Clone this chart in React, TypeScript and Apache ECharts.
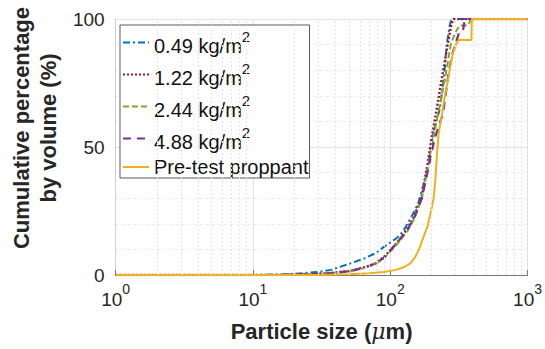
import React, { useEffect, useRef } from "react";
import * as echarts from "echarts";

// Particle size (um) vs cumulative volume percentage (%)
const seriesNames = ["0.49 kg/m2", "1.22 kg/m2", "2.44 kg/m2", "4.88 kg/m2", "Pre-test proppant"];

const blue049: [number, number][] = [
  [1, 0], [10, 0], [15, 0.2], [20, 0.4], [30, 1.2], [37, 2], [51, 4.5], [65, 6.5], [78, 8.5],
  [90, 11], [112, 14.5], [124, 17], [147, 24], [160, 28], [185, 40], [205, 55], [230, 65],
  [246, 77], [258, 90], [270, 97], [279, 100], [1000, 100],
];
const red122: [number, number][] = [
  [1, 0], [15, 0], [26, 0.3], [37, 0.8], [51, 1.6], [65, 3], [78, 4.5], [90, 7], [112, 12.5],
  [133, 18], [150, 23], [170, 31], [188, 44], [201, 54], [220, 66], [238, 77], [263, 90.5],
  [279, 98], [290, 100], [1000, 100],
];
const green244: [number, number][] = [
  [1, 0], [16, 0], [28, 0.3], [37, 0.7], [51, 1.4], [65, 2.8], [78, 4.3], [90, 6.5], [112, 12],
  [133, 17], [150, 22], [170, 30], [188, 42], [205, 53], [225, 64], [251, 77], [277, 90.5],
  [300, 95], [320, 97.5], [370, 97.5], [385, 100], [1000, 100],
];
const purple488: [number, number][] = [
  [1, 0], [16, 0], [28, 0.3], [37, 0.7], [51, 1.5], [65, 2.9], [78, 4.4], [90, 6.8], [112, 12.5],
  [133, 17.5], [150, 22.5], [170, 30], [190, 42], [210, 53], [242, 63], [268, 80], [286, 87],
  [310, 93], [322, 95.7], [340, 96], [350, 100], [1000, 100],
];
const yellowPre: [number, number][] = [
  [1, 0], [30, 0], [50, 0.3], [70, 0.7], [90, 1.2], [110, 2], [125, 3], [140, 4.5], [152, 7],
  [162, 10], [175, 15], [187, 19], [198, 25], [207, 30], [213, 37], [219, 47], [225, 55],
  [240, 64], [252, 71], [263, 76], [275, 82], [286, 86.5], [300, 90], [316, 91.8], [390, 91.8],
  [393, 100], [1000, 100],
];

const yTicks = [0, 50, 100];
const xMinorGrid = [2, 3, 4, 5, 6, 7, 8, 9, 20, 30, 40, 50, 60, 70, 80, 90, 200, 300, 400, 500, 600, 700, 800, 900];

const FONT = "'Liberation Sans', Arial, Helvetica, sans-serif";

export default function App() {
  const ref = useRef<HTMLDivElement>(null);
  useEffect(() => {
    if (!ref.current) return;
    const chart = echarts.init(ref.current, null, { renderer: "svg" });
    const colors = ["#0072BD", "#A2142F", "#77AC30", "#7E2F8E", "#EDB120"];
    const styles: any[] = [
      { type: [7, 3, 2, 3], width: 2 },
      { type: [2, 2], width: 2.5 },
      { type: [6, 3], width: 2 },
      { type: [8, 6], width: 2.2 },
      { type: "solid", width: 2 },
    ];
    const datas = [blue049, red122, green244, purple488, yellowPre];
    const series: any[] = [
      {
        type: "line",
        name: "__grid",
        data: [[1, 0]],
        showSymbol: false,
        symbol: "none",
        lineStyle: { opacity: 0 },
        silent: true,
        z: 1,
        markLine: {
          silent: true,
          symbol: "none",
          label: { show: false },
          lineStyle: { color: "#e4e4e4", type: [2, 2], width: 1 },
          emphasis: { disabled: true },
          data: xMinorGrid.map((v) => ({ xAxis: v })),
        },
      },
    ];
    datas.forEach((d, i) => {
      series.push({
        type: "line",
        name: seriesNames[i],
        data: d,
        symbol: "none",
        showSymbol: false,
        color: colors[i],
        lineStyle: { color: colors[i], ...styles[i] },
        z: 3,
      });
    });
    chart.setOption({
      animation: false,
      backgroundColor: "#fff",
      textStyle: { fontFamily: FONT },
      grid: { left: 114, right: 17, top: 19, bottom: 74 },
      legend: {
        data: seriesNames,
        orient: "vertical",
        left: 120,
        top: 25,
        padding: [4, 1, 1, 2],
        itemGap: 5,
        itemWidth: 26,
        itemHeight: 14,
        itemStyle: { opacity: 0, borderWidth: 0 },
        backgroundColor: "#fff",
        borderColor: "#5a5a5a",
        borderWidth: 1,
        borderRadius: 0,
        selectedMode: false,
        formatter: (name: string) =>
          name.endsWith("m2") ? `{b|${name.slice(0, -1)}}{sup|2}` : `{p|${name}}`,
        textStyle: {
          color: "#111",
          fontFamily: FONT,
          fontSize: 20,
          rich: {
            b: { fontSize: 20, lineHeight: 20, verticalAlign: "bottom", color: "#111", fontFamily: FONT },
            sup: { fontSize: 15, lineHeight: 27, verticalAlign: "top", color: "#111", fontFamily: FONT },
            p: { fontSize: 20, lineHeight: 24, color: "#111", fontFamily: FONT },
          },
        },
      },
      xAxis: {
        type: "log",
        logBase: 10,
        min: 1,
        max: 1000,
        splitNumber: 3,
        name: "Particle size ({i|μ}m)",
        nameLocation: "middle",
        nameGap: 45,
        nameTextStyle: {
          fontSize: 22,
          fontWeight: "bold",
          color: "#262626",
          fontFamily: FONT,
          rich: {
            i: { fontSize: 22, fontStyle: "italic", fontWeight: "normal", color: "#262626", fontFamily: "'DejaVu Serif', serif" },
          },
        },
        axisLine: { show: true, lineStyle: { color: "#777", width: 1 } },
        axisTick: { show: true, inside: true, length: 5, lineStyle: { color: "#777" } },
        axisLabel: {
          margin: 7,
          color: "#262626",
          formatter: (v: number) => `{b|10}{sup|${Math.round(Math.log10(v))}}`,
          rich: {
            b: { fontSize: 19, lineHeight: 19, verticalAlign: "bottom", color: "#262626", fontFamily: FONT },
            sup: { fontSize: 14, lineHeight: 27, verticalAlign: "top", color: "#262626", fontFamily: FONT },
          },
        },
        splitLine: { show: true, lineStyle: { color: "#e2e2e2", width: 1 } },
      },
      yAxis: {
        type: "value",
        min: yTicks[0],
        max: yTicks[yTicks.length - 1],
        interval: yTicks[1] - yTicks[0],
        name: "Cumulative percentage\nby volume (%)",
        nameLocation: "middle",
        nameGap: 50,
        nameTextStyle: {
          fontSize: 22,
          fontWeight: "bold",
          lineHeight: 27,
          color: "#262626",
          fontFamily: FONT,
          padding: [0, 0, 0, 38],
        },
        axisLine: { show: true, lineStyle: { color: "#d0d0d0" } },
        axisTick: { show: false },
        axisLabel: { margin: 11, fontSize: 19, color: "#262626", fontFamily: FONT },
        splitLine: { show: true, lineStyle: { color: "#e2e2e2", width: 1 } },
        minorTick: { show: false, splitNumber: 5 },
        minorSplitLine: { show: true, lineStyle: { color: "#e8e8e8", type: [3, 3], width: 1 } },
      },
      series,
    });
    return () => chart.dispose();
  }, []);
  return (
    <div
      ref={ref}
      style={{ position: "absolute", left: 0, top: 0, width: 545, height: 349, background: "#fff" }}
    />
  );
}
